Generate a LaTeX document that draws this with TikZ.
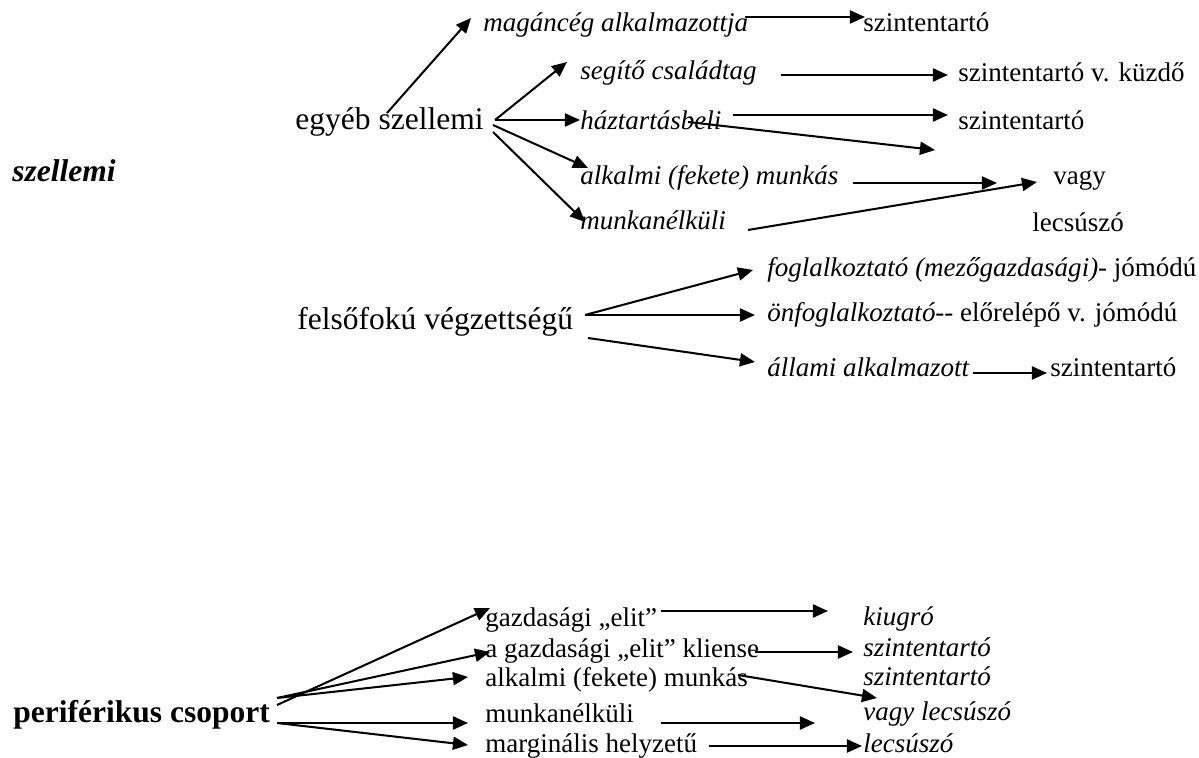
\documentclass[tikz,border=0pt]{standalone}
\usepackage{fontspec}
\setmainfont{Liberation Serif}[ItalicFont={Liberation Serif Italic},
  BoldFont={Liberation Serif Bold},BoldItalicFont={Liberation Serif Bold Italic}]
\usetikzlibrary{arrows.meta}
\tikzset{
  txt/.style={anchor=base west,inner sep=0pt,font=\fontsize{12}{14}\selectfont},
  itx/.style={txt,font=\fontsize{12}{14}\selectfont\itshape},
  big/.style={txt,font=\fontsize{14}{17}\selectfont},
  arr/.style={line width=0.9pt,-{Triangle[length=6.7pt,width=5.8pt]}}
}
\begin{document}
\begin{tikzpicture}[x=0.4444pt,y=-0.4444pt]
\useasboundingbox (0,0) rectangle (1199,758);

% szellemi
\node[big,font=\fontsize{14}{17}\selectfont\bfseries\itshape] (szell) at (12,182) {szellemi};
\node[big] (egyeb) at (295,130) {egyéb szellemi};
\node[itx] (maganc) at (483,32) {magáncég alkalmazottja};
\node[itx] (segito) at (580,80) {segítő családtag};
\node[itx] (haztart) at (580,130) {háztartásbeli};
\node[itx] (alkalmi) at (580,185) {alkalmi (fekete) munkás};
\node[itx] (munkan) at (580,230) {munkanélküli};
\node[txt] (szint1) at (863,32) {szintentartó};
\node[txt] (szint2) at (958,82) {szintentartó v. küzdő};
\node[txt] (szint3) at (958,130) {szintentartó};
\node[txt] (vagy) at (1053,185) {vagy};
\node[txt] (lecsusz) at (1032,232) {lecsúszó};

\node[big] (felso) at (297,330) {felsőfokú végzettségű};
\node[txt] (foglalk) at (767,277) {\textit{foglalkoztató (mezőgazdasági)}- jómódú};
\node[txt] (onfogl) at (767,322) {\textit{önfoglalkoztató}-{}- előrelépő v. jómódú};
\node[itx] (allami) at (767,377) {állami alkalmazott};
\node[txt] (szint4) at (1050,377) {szintentartó};

% periferikus csoport
\node[big,font=\fontsize{14}{17}\selectfont\bfseries] (perif) at (13,722) {periférikus csoport};
\node[txt] (gazd) at (485,626) {gazdasági „elit”};
\node[txt] (kliens) at (485,657) {a gazdasági „elit” kliense};
\node[txt] (alkb) at (485,686) {alkalmi (fekete) munkás};
\node[txt] (munkb) at (485,722) {munkanélküli};
\node[txt] (marg) at (485,752) {marginális helyzetű};
\node[itx] (kiugro) at (863,625) {kiugró};
\node[itx] (szint5) at (863,656) {szintentartó};
\node[itx] (szint6) at (863,685) {szintentartó};
\node[itx] (vagylec) at (863,720) {vagy lecsúszó};
\node[itx] (lecs) at (863,752) {lecsúszó};

% arrow ends
\foreach \n/\x/\y in {s0/387/113, s1/495/120, s2/493/125, s3/493/132,
    t0/471/18, t1/567/62, t2/580/120, t3/588/168, t4/585/222,
    m0/745/17, m0e/865/17, m1/781/75, m1e/948/75, m2/733/115, m2e/948/115,
    m3/688/122, m3e/935/150, m4/853/183, m4e/997/183, m5/748/230, m5e/1037/182,
    f1/585/315, f1e/753/270, f2e/755/315, f3/588/338, f3e/755/362,
    f4/973/373, f4e/1047/373,
    p1/277/705, p1e/490/608, p2/277/698, p2e/490/652, p3e/468/677,
    p4/277/723, p4e/468/723, p5e/468/745,
    r1/661/611, r1e/828/611, r2/755/652, r2e/853/652, r3/738/675, r3e/877/698,
    r4/661/723, r4e/815/723, r5/709/746, r5e/862/746}
  \coordinate (\n) at (\x,\y);

\foreach \a/\b in {s0/t0, s1/t1, s1/t2, s2/t3, s3/t4,
    m0/m0e, m1/m1e, m2/m2e, m3/m3e, m4/m4e, m5/m5e,
    f1/f1e, f1/f2e, f3/f3e, f4/f4e,
    p1/p1e, p2/p2e, p2/p3e, p4/p4e, p4/p5e,
    r1/r1e, r2/r2e, r3/r3e, r4/r4e, r5/r5e}
  \draw[arr] (\a) -- (\b);
\end{tikzpicture}
\end{document}
